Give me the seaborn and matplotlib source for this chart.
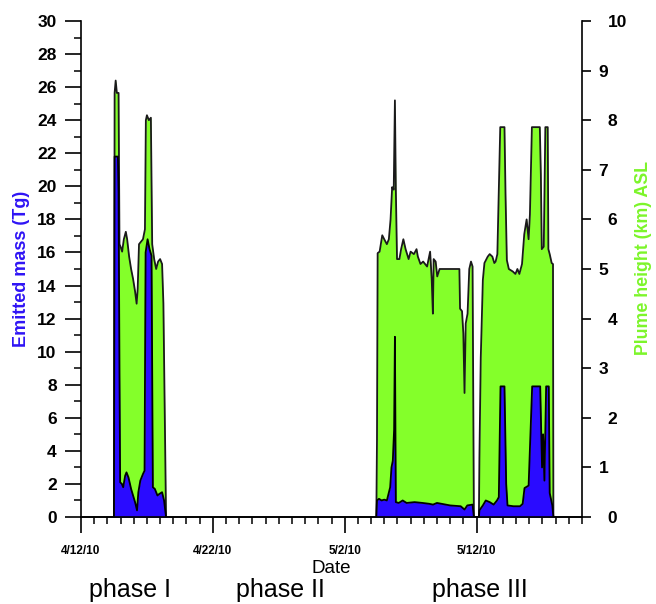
import numpy as np
import matplotlib
matplotlib.use("Agg")
import matplotlib.pyplot as plt
import matplotlib.transforms as mtransforms
import seaborn as sns
from matplotlib.ticker import MultipleLocator

# ---------------- data (time in days since 2010-04-12) ----------------
date_labels = ["4/12/10", "4/22/10", "5/2/10", "5/12/10"]
date_ticks = [0, 10, 20, 30]
phase_labels = ["phase I", "phase II", "phase III"]

# plume height (km ASL), phase I
p1_height_day = [2.50, 2.55, 2.63, 2.72, 2.85, 2.92, 3.00, 3.12, 3.25, 3.40, 3.50, 3.65,
                 3.80, 3.95, 4.10, 4.22, 4.30, 4.40, 4.55, 4.70, 4.85, 4.92, 5.00, 5.15,
                 5.30, 5.40, 5.55, 5.70, 5.85, 6.00, 6.15, 6.25, 6.45]
p1_height_km = [0.0, 8.55, 8.8, 8.55, 8.55, 5.5, 5.45, 5.35, 5.6, 5.75, 5.6, 5.25,
                5.0, 4.8, 4.55, 4.3, 4.6, 5.5, 5.55, 5.6, 5.8, 8.0, 8.1, 8.0,
                8.05, 5.5, 5.2, 5.0, 5.15, 5.2, 5.1, 4.3, 0.0]

# plume height (km ASL), phase III
p3_height_day = [22.40, 22.45, 22.50, 22.65, 22.85, 23.00, 23.20, 23.35, 23.48, 23.60,
                 23.72, 23.81, 23.88, 23.97, 24.15, 24.28, 24.45, 24.62, 24.85, 25.00,
                 25.25, 25.45, 25.55, 25.75, 25.95, 26.25, 26.48, 26.60, 26.69, 26.75,
                 26.90, 27.02, 27.20, 28.70, 28.75, 28.90, 29.00, 29.09, 29.18, 29.32,
                 29.45, 29.58, 29.70, 29.80, 30.18, 30.22, 30.32, 30.48, 30.60, 30.85,
                 31.00, 31.20, 31.35, 31.45, 31.58, 31.70, 31.80, 32.12, 32.20, 32.30,
                 32.45, 32.75, 32.95, 33.10, 33.25, 33.45, 33.62, 33.80, 33.95, 34.05,
                 34.20, 34.80, 34.88, 34.95, 35.10, 35.22, 35.28, 35.40, 35.45, 35.55,
                 35.70, 35.80, 35.83]
p3_height_km = [0.0, 1.55, 5.32, 5.35, 5.68, 5.6, 5.5, 5.6, 6.0, 6.65,
                6.6, 8.4, 6.6, 5.2, 5.2, 5.4, 5.6, 5.4, 5.2, 5.35,
                5.3, 5.4, 5.25, 5.1, 5.15, 5.05, 5.35, 4.8, 4.1, 5.2,
                5.15, 4.85, 5.0, 5.0, 4.2, 4.15, 3.7, 2.5, 3.9, 4.1,
                5.0, 5.15, 5.05, 0.0, 0.0, 1.2, 3.2, 4.78, 5.12, 5.25,
                5.3, 5.25, 5.12, 5.15, 5.3, 6.7, 7.86, 7.86, 6.5, 5.18,
                5.0, 4.95, 4.9, 5.0, 4.9, 5.1, 5.7, 6.0, 5.6, 6.1,
                7.86, 7.86, 6.9, 5.4, 5.45, 7.86, 7.86, 7.86, 5.4, 5.3,
                5.12, 5.1, 0.0]

# emitted mass (Tg), phase I
p1_mass_day = [2.50, 2.55, 2.80, 2.85, 2.92, 2.97, 3.10, 3.20, 3.35, 3.45, 3.60, 3.80,
               3.95, 4.10, 4.25, 4.35, 4.50, 4.70, 4.82, 4.90, 5.05, 5.20, 5.35, 5.45,
               5.60, 5.80, 5.95, 6.15, 6.30, 6.45]
p1_mass_tg = [0.0, 21.8, 21.8, 19.6, 8.7, 2.1, 2.0, 1.8, 2.5, 2.7, 2.4, 1.7,
              1.3, 0.9, 0.4, 1.5, 2.2, 2.6, 2.8, 16.0, 16.8, 16.2, 15.8, 1.8,
              1.7, 1.3, 1.4, 1.5, 1.0, 0.0]

# emitted mass (Tg), phase III
p3_mass_day = [22.40, 22.45, 22.60, 22.80, 23.00, 23.20, 23.45, 23.55, 23.65, 23.75,
               23.81, 23.88, 24.10, 24.40, 24.70, 25.30, 25.90, 26.40, 26.70, 27.00,
               28.00, 28.80, 29.09, 29.30, 29.70, 29.80, 30.18, 30.22, 30.48, 30.70,
               31.00, 31.30, 31.55, 31.69, 31.82, 32.12, 32.25, 32.35, 32.80, 33.30,
               33.50, 33.64, 33.95, 34.22, 34.83, 34.90, 34.97, 35.05, 35.15, 35.28,
               35.48, 35.55, 35.75, 35.83]
p3_mass_tg = [0.0, 1.0, 1.1, 1.0, 1.05, 1.0, 1.8, 3.0, 3.4, 5.3,
              10.9, 0.9, 0.85, 1.0, 0.85, 0.9, 0.85, 0.8, 0.75, 0.85,
              0.7, 0.65, 0.45, 0.7, 0.75, 0.0, 0.0, 0.4, 0.7, 1.0,
              0.9, 0.75, 1.0, 1.2, 7.9, 7.9, 2.0, 0.7, 0.65, 0.65,
              0.8, 1.75, 1.9, 7.9, 7.9, 5.4, 3.0, 5.0, 2.2, 7.9,
              7.9, 1.45, 0.7, 0.0]

BLUE = "#2a0bff"
GREEN = "#84ff2a"
BLUE_TXT = "#2f14f5"
GREEN_TXT = "#7cf52a"

# ---------------- plotting ----------------
sns.set_theme(style="ticks")
plt.rcParams['font.family'] = ['Liberation Sans', 'DejaVu Sans']
plt.rcParams.update({"text.color": "black", "axes.labelcolor": "black",
                     "xtick.color": "black", "ytick.color": "black"})

W, H = 656, 604
fig = plt.figure(figsize=(W / 100, H / 100), dpi=100)
ax = fig.add_axes([81 / W, 1 - 517 / H, (582 - 81) / W, (517 - 21) / H])
ax2 = ax.twinx()
ax.set_zorder(ax2.get_zorder() + 1)
ax.patch.set_visible(False)

for t, h in [(p1_height_day, p1_height_km), (p3_height_day, p3_height_km)]:
    t = np.asarray(t); h = np.asarray(h)
    ax2.fill_between(t, 0, h, color=GREEN, lw=0)
    sns.lineplot(x=t, y=h, ax=ax2, color="#1a1a1a", lw=1.3, sort=False, estimator=None)

for t, m in [(p1_mass_day, p1_mass_tg), (p3_mass_day, p3_mass_tg)]:
    t = np.asarray(t); m = np.asarray(m)
    ax.fill_between(t, 0, m, color=BLUE, lw=0)
    sns.lineplot(x=t, y=m, ax=ax, color="black", lw=1.3, sort=False, estimator=None)

ax.set_xlim(0, 38)
ax.set_ylim(0, 30)
ax2.set_ylim(0, 10)

# spines
for a in (ax, ax2):
    a.spines["top"].set_visible(False)
    for s in ("left", "right", "bottom"):
        a.spines[s].set_color("black")
        a.spines[s].set_linewidth(1.2)
ax.spines["right"].set_visible(False)
ax2.spines["left"].set_visible(False)

# x ticks
ax.set_xticks(date_ticks)
ax.set_xticklabels(date_labels, fontsize=8.5, fontweight="bold")
ax.xaxis.set_minor_locator(MultipleLocator(1))
ax.tick_params(axis="x", which="major", direction="out", length=11.5, width=1.2, pad=9)
ax.tick_params(axis="x", which="minor", direction="out", length=5, width=1.1)
ax.set_xlabel("Date", fontsize=13.5, labelpad=2)

# left y
ax.set_yticks(range(0, 31, 2))
ax.set_yticklabels([str(v) for v in range(0, 31, 2)], fontsize=12.5, fontweight="bold")
ax.yaxis.set_minor_locator(MultipleLocator(1))
ax.tick_params(axis="y", which="major", direction="out", length=11.5, width=1.2, pad=6)
ax.tick_params(axis="y", which="minor", direction="out", length=5, width=1.1)
ax.set_ylabel("Emitted mass (Tg)", fontsize=13, fontweight="bold", color=BLUE_TXT,
              ha="center", va="center")
ax.yaxis.set_label_coords((22 - 81) / 501, (517 - 269) / 496)

# right y
ax2.set_yticks(range(0, 11))
ax2.set_yticklabels([str(v) for v in range(0, 11)], fontsize=12.5, fontweight="bold")
ax2.tick_params(axis="y", which="major", direction="out", length=6.5, width=1.2, pad=12)
shift = mtransforms.ScaledTranslation(-9 / 100, 0, fig.dpi_scale_trans)
for v, lab in zip(range(0, 11), ax2.get_yticklabels()):
    if v % 2 == 1:
        lab.set_transform(lab.get_transform() + shift)
ax2.set_ylabel("Plume height (km) ASL", fontsize=12.8, fontweight="bold", color=GREEN_TXT,
               ha="center", va="center")
ax2.yaxis.set_label_coords((644 - 81) / 501, (517 - 258) / 496)

ax.grid(False); ax2.grid(False)

for label, xp in zip(phase_labels, [130, 280, 480]):
    fig.text(xp / W, 1 - 597 / H, label, fontsize=18, ha="center", va="baseline", color="black")

fig.savefig("out.png", dpi=100)
